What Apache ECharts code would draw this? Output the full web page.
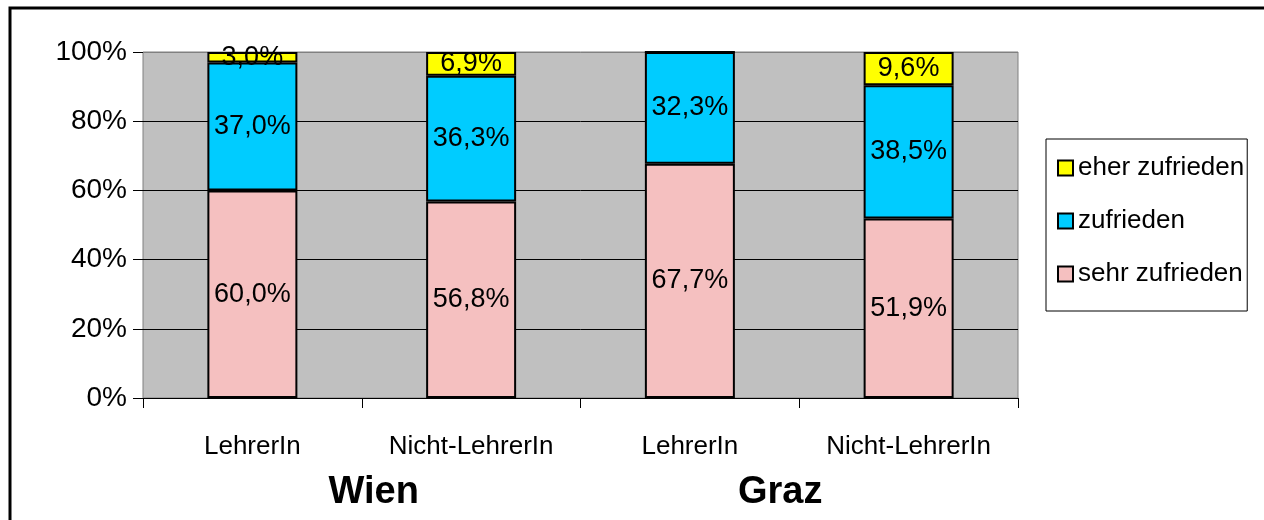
<!DOCTYPE html>
<html>
<head>
<meta charset="utf-8">
<script src="https://cdn.jsdelivr.net/npm/echarts@6/dist/echarts.min.js"></script>
<style>html,body{margin:0;padding:0;background:#fff}#c{width:1264px;height:520px}</style>
</head>
<body>
<div id="c"></div>
<script>
const categories = ['LehrerIn', 'Nicht-LehrerIn', 'LehrerIn', 'Nicht-LehrerIn'];
const groups = ['Wien', 'Graz'];
const sehrZufrieden = [60.0, 56.8, 67.7, 51.9];
const zufrieden = [37.0, 36.3, 32.3, 38.5];
const eherZufrieden = [3.0, 6.9, 0, 9.6];
const yTicks = [0, 20, 40, 60, 80, 100];

const FONT = 'Liberation Sans, Arial, sans-serif';
const fmt = p => p.value ? p.value.toFixed(1).replace('.', ',') + '%' : '';
const labelStyle = { show: true, position: 'inside', color: '#000', fontSize: 27, fontFamily: FONT, formatter: fmt };
function mk(name, data, color) {
  return {
    name, type: 'bar', stack: 'total', data, barWidth: 90,
    itemStyle: { color, borderColor: '#000', borderWidth: 2 },
    label: labelStyle
  };
}

const chart = echarts.init(document.getElementById('c'), null, { renderer: 'canvas' });
chart.setOption({
  animation: false,
  backgroundColor: '#fff',
  graphic: [{
    type: 'rect', shape: { x: 10, y: 8, width: 1400, height: 700 },
    style: { fill: 'none', stroke: '#000', lineWidth: 3 }, z: 100
  }],
  grid: {
    left: 143, right: 246, top: 52, bottom: 122,
    show: true, backgroundColor: '#c0c0c0', borderColor: '#808080', borderWidth: 1
  },
  legend: {
    orient: 'vertical', left: 1046, top: 139,
    data: ['eher zufrieden', 'zufrieden', 'sehr zufrieden'],
    itemWidth: 15, itemHeight: 15, itemGap: 27,
    padding: [16, 3, 24, 11],
    borderColor: '#000', borderWidth: 1,
    icon: 'rect',
    textStyle: { fontSize: 26, fontFamily: FONT, color: '#000', lineHeight: 26, padding: [0, 0, 0, 0] }
  },
  xAxis: [{
    type: 'category', data: categories, position: 'bottom',
    axisLine: { show: true, lineStyle: { color: '#000', width: 1 } },
    axisTick: { show: true, length: 10, lineStyle: { color: '#000' } },
    axisLabel: { margin: 36, fontSize: 26, fontFamily: FONT, color: '#000' },
    splitLine: { show: false }
  }, {
    type: 'category', data: groups, position: 'bottom',
    axisLine: { show: false }, axisTick: { show: false },
    axisLabel: {
      margin: 76, fontFamily: FONT, color: '#000',
      formatter: (v, i) => i === 0 ? '{w|' + v + '}' : '{g|' + v + '}',
      rich: {
        w: { fontSize: 38, fontWeight: 'bold', fontFamily: FONT, color: '#000', padding: [0, 0, 0, 24] },
        g: { fontSize: 38, fontWeight: 'bold', fontFamily: FONT, color: '#000', padding: [0, 38, 0, 0] }
      }
    },
    splitLine: { show: false }
  }],
  yAxis: {
    type: 'value', min: yTicks[0], max: yTicks[yTicks.length - 1], interval: 20,
    axisLine: { show: false },
    axisTick: { show: true, length: 10, lineStyle: { color: '#000' } },
    axisLabel: { margin: 16, fontSize: 28, fontFamily: FONT, color: '#000', formatter: v => v + '%' },
    splitLine: { show: true, lineStyle: { color: ['#000', '#000', '#000', '#000', '#000', '#808080'], width: 1 } }
  },
  series: [
    mk('sehr zufrieden', sehrZufrieden, '#f5c0c0'),
    mk('zufrieden', zufrieden, '#00ccff'),
    mk('eher zufrieden', eherZufrieden, '#ffff00')
  ]
});
</script>
</body>
</html>
